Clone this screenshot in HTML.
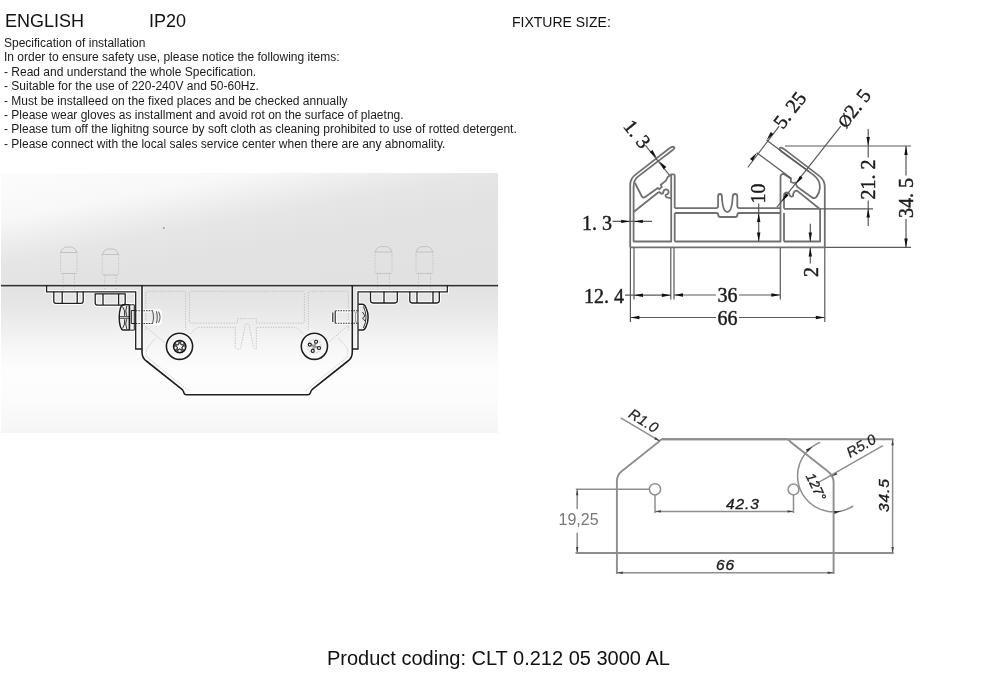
<!DOCTYPE html>
<html>
<head>
<meta charset="utf-8">
<style>
html,body{margin:0;padding:0;background:#fff;}
body{width:1000px;height:700px;position:relative;overflow:hidden;font-family:"Liberation Sans",sans-serif;color:#111;}
.t{position:absolute;white-space:nowrap;}
#eng{left:4.6px;top:11px;font-size:18px;line-height:21px;}
#ip{left:148.5px;top:11px;font-size:18px;line-height:21px;}
#fix{left:511.5px;top:14px;font-size:14px;line-height:16px;}
#spec{left:4px;top:35.7px;font-size:12px;line-height:14.4px;color:#1a1a1a;}
#prod{left:327px;top:646.8px;font-size:20px;line-height:23px;}
#panel{position:absolute;left:1px;top:173px;width:497px;height:113px;
background: linear-gradient(169.5deg, #fcfcfc 0px, #f8f8f8 46px, #eeeeee 68px, #e6e6e6 88px, #e2e2e2 120px, #e1e1e1 202px);
}
#panel2{position:absolute;left:1px;top:286px;width:497px;height:147px;
background: linear-gradient(to bottom, #e2e2e2 0px, #e6e6e6 18px, #eeeeee 40px, #f7f7f7 62px, #fdfdfd 85px, #fcfcfc 110px, #f7f7f7 140px, #f5f5f5 147px);
}
svg{position:absolute;left:0;top:0;will-change:transform;}
.t{will-change:transform;}
</style>
</head>
<body>
<div class="t" id="eng">ENGLISH</div>
<div class="t" id="ip">IP20</div>
<div class="t" id="fix">FIXTURE SIZE:</div>
<div class="t" id="spec">Specification of installation<br>In order to ensure safety use, please notice the following items:<br>- Read and understand the whole Specification.<br>- Suitable for the use of 220-240V and 50-60Hz.<br>- Must be installeed on the fixed places and be checked annually<br>- Please wear gloves as installment and avoid rot on the surface of plaetng.<br>- Please tum off the lighitng source by soft cloth as cleaning prohibited to use of rotted detergent.<br>- Please connect with the local sales service center when there are any abnomality.</div>
<div id="panel"></div><div id="panel2"></div>

<svg id="left" width="1000" height="700" viewBox="0 0 1000 700">
<g fill="none" stroke="#c4c4c4" stroke-width="1" stroke-dasharray="1.4 1.2">
 
 <!-- dotted bolts above ceiling -->
 <path d="M60.6,252.5 Q61.6,248.5 65.52,247 H72.08 Q76,248.5 77,252.5 Z M61.1,273.5 H76.5" stroke="#c2c2c2" stroke-dasharray="none" stroke-width="1"/><path d="M60.6,252.5 V273.5 M77,252.5 V273.5"/><path d="M63.1,273.5 V291 M74.5,273.5 V291"/>
 <path d="M102.2,254.5 Q103.2,250.5 107.12,249 H113.67999999999999 Q117.6,250.5 118.6,254.5 Z M102.7,275 H118.1" stroke="#c2c2c2" stroke-dasharray="none" stroke-width="1"/><path d="M102.2,254.5 V275 M118.6,254.5 V275"/><path d="M104.7,275 V292 M116.1,275 V292"/>
 <path d="M375,252 Q376,248.1 380.1,246.6 H386.9 Q391,248.1 392,252 Z M375.5,273.4 H391.5" stroke="#c2c2c2" stroke-dasharray="none" stroke-width="1"/><path d="M375,252 V273.4 M392,252 V273.4"/><path d="M377.5,273.4 V292 M389.5,273.4 V292"/>
 <path d="M416,252 Q417,248.1 421.1,246.6 H427.9 Q432,248.1 433,252 Z M416.5,273.4 H432.5" stroke="#c2c2c2" stroke-dasharray="none" stroke-width="1"/><path d="M416,252 V273.4 M433,252 V273.4"/><path d="M418.5,273.4 V292 M430.5,273.4 V292"/>
 <!-- interior dotted -->
 <circle cx="163.8" cy="228" r="0.9" fill="#999" stroke="none"/>
 <path d="M145.8,330 V293 Q145.8,291.3 147.5,291.3 H184 Q185.6,291.3 185.6,293 V330"/>
 <path d="M189.5,293 Q189.5,291.3 191,291.3 H303 Q304.4,291.3 304.4,293 V321.5 Q304.4,323.1 303,323.1 H256.3 V318.6 H237.4 V323.1 H191 Q189.5,323.1 189.5,321.5 Z"/>
 <path d="M308.3,330 V293 Q308.3,291.3 310,291.3 H346.5 Q348.3,291.3 348.3,293 V330"/>
 <path d="M190.5,334 L195.5,329 Q197.5,327.3 199.5,327.3 H235.3 V347 Q235.3,349 237.4,349 H239 Q240.5,349 240.8,347 L245.5,324.5 Q247.2,322.5 249,324.5 L253.5,347 Q253.8,349 255.5,349 H256.3 V327.3 H294.5 Q296.2,327.3 298,329 L303.2,334"/>
 <path d="M143.4,324.6 L166.3,344 M348.7,324.6 L328.1,342.9"/>
 <path d="M155.4,338.3 L147.5,347.5 Q146.3,349.7 146.5,352 V354.5 Q146.8,357 149,358.7 L186.5,389 Q188,390.5 189.5,391"/><path d="M338.9,338.3 L346.8,347.5 Q348,349.7 347.8,352 V354.5 Q347.5,357 345.3,358.7 L307.8,389 Q306.3,390.5 304.8,391"/>
 
</g>
<g fill="none" stroke="#fff" stroke-width="3.4" opacity="0.9">
 <!-- ceiling -->
 <path d="M0,285.5 H498"/>
 <!-- left bracket -->
 <path d="M46.6,285.5 V291.8 H135.7 V349 H141.8"/>
 <!-- body -->
 <path d="M142,285.5 V352 Q142,358.5 147,361.5 L182.3,389.7 Q183.6,391 184,393 Q184.6,394.8 186.4,394.8 H307.9 Q309.7,394.8 310.3,393 Q310.7,391 312,389.7 L347.3,361.5 Q352.3,358.5 352.3,352 V285.5"/>
 <!-- right bracket -->
 <path d="M352.3,349 H358 V291.8 H447.3 V285.5"/>
 <!-- nuts -->
 <path d="M53.8,291.8 V301 Q53.8,303.4 56,303.4 H81 Q83.2,303.4 83.2,301 V291.8 M62.2,291.8 V303 M77.2,291.8 V303"/>
 <path d="M95.2,293.8 V302.8 Q95.2,305.2 97.5,305.2 H123 Q125.2,305.2 125.2,302.8 V293.8 Z M103,293.8 V305 M118.6,293.8 V305"/>
 <path d="M370.5,291.8 V300.6 Q370.5,303 373,303 H395 Q397.3,303 397.3,300.6 V291.8 M384,291.8 V303"/>
 <path d="M409.8,291.8 V300.6 Q409.8,303 412,303 H437 Q439.3,303 439.3,300.6 V291.8 M417,291.8 V303 M433,291.8 V303"/>
 <!-- left pan screw -->
 <path d="M134.3,304.8 H123 Q121.3,305.2 120.4,308.2 Q119.2,312.2 119.2,317.4 Q119.2,322.6 120.4,326.6 Q121.3,329.7 123,330.1 H134.3"/>
 <!-- right pan screw -->
 <path d="M358.3,304.3 H363 Q365.2,305 366.3,308.5 Q368.1,312.6 368.1,317.2 Q368.1,321.8 366.3,326 Q365.2,329.5 363,330.1 H358.3"/>
 <path d="M335.2,311 V323.3 M332.8,312.5 V322 M335.2,310.8 H351.8 M335.2,323.3 H351.8"/>
 <path d="M135.7,310.8 H160.5 M135.7,323.5 H160.5 M160.4,311 V323.4"/>
 <!-- front screws -->
 <circle cx="179.5" cy="346.3" r="13.1"/>
 <circle cx="314.4" cy="346.3" r="13.1"/>
</g>
<g fill="none" stroke="#1e1e1e" stroke-width="1.3">
 <!-- ceiling -->
 <path d="M1,285.6 H498" stroke="#333" stroke-width="1.7"/>
 <!-- left bracket -->
 <path d="M46.6,285.5 V291.8 H135.7 V349 H141.8"/>
 <!-- body -->
 <path d="M142,285.5 V352 Q142,358.5 147,361.5 L182.3,389.7 Q183.6,391 184,393 Q184.6,394.8 186.4,394.8 H307.9 Q309.7,394.8 310.3,393 Q310.7,391 312,389.7 L347.3,361.5 Q352.3,358.5 352.3,352 V285.5" stroke-width="1.6"/>
 <!-- right bracket -->
 <path d="M352.3,349 H358 V291.8 H447.3 V285.5"/>
 <!-- nuts -->
 <path d="M53.8,291.8 V301 Q53.8,303.4 56,303.4 H81 Q83.2,303.4 83.2,301 V291.8 M62.2,291.8 V303 M77.2,291.8 V303"/>
 <path d="M95.2,293.8 V302.8 Q95.2,305.2 97.5,305.2 H123 Q125.2,305.2 125.2,302.8 V293.8 Z M103,293.8 V305 M118.6,293.8 V305"/>
 <path d="M370.5,291.8 V300.6 Q370.5,303 373,303 H395 Q397.3,303 397.3,300.6 V291.8 M384,291.8 V303"/>
 <path d="M409.8,291.8 V300.6 Q409.8,303 412,303 H437 Q439.3,303 439.3,300.6 V291.8 M417,291.8 V303 M433,291.8 V303"/>
 <!-- left pan screw -->
 <path d="M129.4,304.8 H123 Q121.3,305.2 120.4,308.2 Q119.2,312.2 119.2,317.4 Q119.2,322.6 120.4,326.6 Q121.3,329.7 123,330.1 H129.4" stroke-width="1.5"/>
 <path d="M129.4,304.8 V330.1" stroke-width="1.6"/>
 <path d="M129.4,304.8 H134.3 V330.1 H129.4" stroke-width="1"/>
 <path d="M131.3,310.5 V323.5 H135.7 M131.3,310.5 H135.7" stroke-width="1"/>
 <path d="M119.8,316.6 H129.4 M119.8,318.3 H129.4" stroke-width="0.8"/>
 <path d="M122.5,306.5 Q125.5,310.5 124.6,315.8 M122.5,328.5 Q125.5,324.3 124.6,319.2 M126.8,306 Q124.8,311 126.6,315.8 M126.8,329 Q124.8,324 126.6,319.2" stroke-width="0.9"/>
 <!-- right pan screw -->
 <path d="M358.3,304.3 H363 Q365.2,305 366.3,308.5 Q368.1,312.6 368.1,317.2 Q368.1,321.8 366.3,326 Q365.2,329.5 363,330.1 H358.3" stroke-width="1.5"/>
 <path d="M363.4,306.5 Q366,311.5 366,317.2 Q366,322.9 363.4,328" stroke-width="0.9"/>
 <path d="M362.5,312 L365,316 L362.5,318 L365,321" stroke-width="0.9"/>
 <path d="M335.2,311 V323.3 M332.8,312.5 V322" stroke-width="1.1"/>
 <path d="M355.6,312.5 H358.3 V322 H355.6 Z" stroke="#999" stroke-width="0.9"/>
 <!-- front screws -->
 <circle cx="179.5" cy="346.3" r="13.1" stroke-width="1.6"/>
 <circle cx="314.4" cy="346.3" r="13.1" stroke-width="1.6"/>
</g>
<g fill="none" stroke="#333" stroke-width="1.1" stroke-dasharray="1.6 1">
 <path d="M135.7,310.8 H153 M135.7,323.5 H153"/>
 <path d="M335.2,310.8 H358.3 M335.2,323.3 H358.3"/>
</g>
<g fill="none" stroke="#666" stroke-width="1.1">
 <path d="M152.5,311 Q154.6,317.2 152.5,323.4 M156.3,311.2 Q158.4,317.2 156.3,323.2 M158.5,311.6 Q161.6,317.2 158.5,322.8"/>
</g>
<g fill="none" stroke="#333" stroke-width="1">
 <!-- torx left -->
 <circle cx="179.7" cy="346.6" r="6.2" fill="#6a6a6a" stroke="#111" stroke-width="1.4"/>
 <g fill="#f4f4f4" stroke="none"><circle cx="182.23" cy="343.12" r="1.1"/><circle cx="183.79" cy="347.93" r="1.1"/><circle cx="179.70" cy="350.90" r="1.1"/><circle cx="175.61" cy="347.93" r="1.1"/><circle cx="177.17" cy="343.12" r="1.1"/></g>
 <path d="M179.70,342.20 L180.99,344.82 L183.88,345.24 L181.79,347.28 L182.29,350.16 L179.70,348.80 L177.11,350.16 L177.61,347.28 L175.52,345.24 L178.41,344.82 Z" fill="#fafafa" stroke="#222" stroke-width="0.9"/>
 <!-- cross right -->
 <circle cx="314.4" cy="346.3" r="6.8" stroke="#d4d4d4" stroke-width="1.4" stroke-dasharray="1.5 1"/>
 <path d="M314.40,346.30 L315.56,343.11 M314.40,346.30 L317.59,347.46 M314.40,346.30 L313.24,349.49 M314.40,346.30 L311.21,345.14 " stroke="#9a9a9a" stroke-width="2.4"/>
 <g stroke="#1a1a1a" stroke-width="1.1" fill="#fff"><circle cx="316.08" cy="341.70" r="1.5"/><circle cx="319.00" cy="347.98" r="1.5"/><circle cx="312.72" cy="350.90" r="1.5"/><circle cx="309.80" cy="344.62" r="1.5"/></g>
</g>
</g>
</svg>
<svg id="rtop" width="1000" height="700" viewBox="0 0 1000 700">
<g fill="none" stroke="#707070" stroke-width="1.8" stroke-linejoin="round">
<path d="M630.2,247.4 V185 Q630.2,178.5 635.5,174.6 L669.5,148.3 Q672.8,145.8 674.3,147.3 Q675,148.6 672.4,150.2 L637.6,176.9 Q633.6,180.3 633.6,186.5 V241.5 H671.2 V174.6"/>
<path d="M635,183 L641.6,196 Q643,198.6 645.5,196.8 L657.8,188 L659.3,189.2 L661.8,186.8 L660.8,184.8 L666,180.6 L667.6,177.2 L671.2,174.4 L674.7,174.4"/>
<path d="M633.6,212 L657.8,192.8 Q659.5,191.6 660.4,193 Q661.8,194.4 663.2,193 Q663.2,189.6 665.8,189.4 Q669,189.6 668.6,192.6 Q667.6,194.6 665.6,195 Q665.2,197.4 668,197.6 L671.2,198.2"/>
<path d="M674.7,174.4 V208.1 M674.7,213 V241.5"/>
<path d="M674.7,208.1 H716 Q718.1,208.1 718.1,206 V196.5 Q718.1,194 720,194 Q721.9,194 721.9,196.5 C722.2,203.5 723,211.8 727.3,211.8 C731.6,211.8 732.4,203.5 732.7,196.5 Q732.9,194 735,194 Q737.3,194 737.3,196.5 V206 Q737.3,208.1 739.5,208.1 H780.5"/>
<path d="M674.7,213 H716.3 Q718.3,213 718.3,215 Q718.3,217 720.3,217 H735.3 Q737.3,217 737.3,215 Q737.3,213 739.3,213 H780.5"/>
<path d="M674.7,241.5 H780.5 V208.1"/>
<path d="M780.5,208.1 V177.5 Q780.5,173.8 783.5,173.8 L791,178.8 L790.8,182 L793.5,183 L795.2,182.5 L796.4,185.2 L797.5,187 L811.8,197.2 Q814.5,199.4 816.6,196.6 Q819.8,192.2 819.8,188 V186 Q819.8,180.2 814,175.4 L781.2,151.2 Q780,150.4 779.6,149.2 Q779.3,147.4 781.4,147.6 Q783,148.2 785.8,150.4 L819.8,176.4 Q824.8,180.5 824.8,187 V247.4 H630.2"/>
<path d="M784,241.5 V213 M784,208.8 V196 Q784,193 786.5,192.5 Q789.5,192.5 789.8,195.5 Q791,197.5 793,196 Q793,192.5 795.5,190.8 L797,190.6 L819.5,208.8"/>
<path d="M784,241.5 H820.1 V208.8 H784"/>
</g>
<g fill="none" stroke="#5a5a5a" stroke-width="1.2">
<path d="M630.4,247.4 V322 M634,247.4 V299.4 M670.8,247.4 V299.4 M674,247.4 V299.4 M780.3,247.4 V299.4 M824.8,247.4 V322"/>
<path d="M625,295.2 H670.8"/>
<path d="M674,295 H716 M739,295 H780.3"/>
<path d="M630.4,317.5 H716 M739,317.5 H824.8"/>
<path d="M612.5,221.4 H652"/>
<path d="M785,146 H911 M820.1,208.8 H873 M825,247.4 H911"/>
<path d="M868.2,129 V157.5 M868.2,200.5 V226"/>
<path d="M906,146 V175.5 M906,219 V247.4"/>
<path d="M758.7,203.6 V241.5"/>
<path d="M810.3,223.7 V241.5 M810.3,247.4 V263.5"/>
<path d="M747.7,167.5 L779.2,126.2 M766.6,140.2 L809,171.5 M756.8,152.8 L791.5,178.5"/>
<path d="M840.8,126.2 L777,207.2"/>
<path d="M645.4,145.4 L669.4,175.1"/>
</g>
<path d="M634.0,295.2 L643.0,293.5 L643.0,296.9 Z" fill="#111" stroke="none"/>
<path d="M670.8,295.2 L661.8,296.9 L661.8,293.5 Z" fill="#111" stroke="none"/>
<path d="M674.0,295.0 L683.0,293.3 L683.0,296.7 Z" fill="#111" stroke="none"/>
<path d="M780.3,295.0 L771.3,296.7 L771.3,293.3 Z" fill="#111" stroke="none"/>
<path d="M630.4,317.5 L639.4,315.8 L639.4,319.2 Z" fill="#111" stroke="none"/>
<path d="M824.8,317.5 L815.8,319.2 L815.8,315.8 Z" fill="#111" stroke="none"/>
<path d="M630.2,221.4 L621.2,223.1 L621.2,219.7 Z" fill="#111" stroke="none"/>
<path d="M633.8,221.4 L642.8,219.7 L642.8,223.1 Z" fill="#111" stroke="none"/>
<path d="M868.2,146.0 L866.5,137.0 L869.9,137.0 Z" fill="#111" stroke="none"/>
<path d="M868.2,208.6 L869.9,217.6 L866.5,217.6 Z" fill="#111" stroke="none"/>
<path d="M906.0,146.0 L907.7,155.0 L904.3,155.0 Z" fill="#111" stroke="none"/>
<path d="M906.0,247.4 L904.3,238.4 L907.7,238.4 Z" fill="#111" stroke="none"/>
<path d="M758.7,213.0 L760.4,222.0 L757.0,222.0 Z" fill="#111" stroke="none"/>
<path d="M758.7,241.5 L757.0,232.5 L760.4,232.5 Z" fill="#111" stroke="none"/>
<path d="M810.3,241.5 L808.6,232.5 L812.0,232.5 Z" fill="#111" stroke="none"/>
<path d="M810.3,247.4 L812.0,256.4 L808.6,256.4 Z" fill="#111" stroke="none"/>
<path d="M766.6,140.2 L770.7,132.0 L773.4,134.1 Z" fill="#111" stroke="none"/>
<path d="M756.8,152.8 L752.7,161.0 L750.0,158.9 Z" fill="#111" stroke="none"/>
<path d="M795.8,184.0 L800.0,175.8 L802.6,177.9 Z" fill="#111" stroke="none"/>
<path d="M781.7,201.5 L785.9,193.3 L788.5,195.4 Z" fill="#111" stroke="none"/>
<path d="M656.8,158.0 L649.8,152.1 L652.5,149.9 Z" fill="#111" stroke="none"/>
<path d="M659.3,161.2 L666.3,167.1 L663.6,169.3 Z" fill="#111" stroke="none"/>
<text x="582" y="229.5" font-family="Liberation Serif" font-size="20" fill="#1c1c1c" stroke="#1c1c1c" stroke-width="0.45">1. 3</text>
<text x="584" y="303" font-family="Liberation Serif" font-size="20" fill="#1c1c1c" stroke="#1c1c1c" stroke-width="0.45">12. 4</text>
<text x="717.5" y="302" font-family="Liberation Serif" font-size="20" fill="#1c1c1c" stroke="#1c1c1c" stroke-width="0.45">36</text>
<text x="717.5" y="324.5" font-family="Liberation Serif" font-size="20" fill="#1c1c1c" stroke="#1c1c1c" stroke-width="0.45">66</text>
<text transform="translate(765,203.5) rotate(-90)" font-family="Liberation Serif" font-size="20" fill="#1c1c1c" stroke="#1c1c1c" stroke-width="0.45">10</text>
<text transform="translate(875,199.5) rotate(-90)" font-family="Liberation Serif" font-size="20" fill="#1c1c1c" stroke="#1c1c1c" stroke-width="0.45">21. 2</text>
<text transform="translate(913,218) rotate(-90)" font-family="Liberation Serif" font-size="20" fill="#1c1c1c" stroke="#1c1c1c" stroke-width="0.45">34. 5</text>
<text transform="translate(818,277) rotate(-90)" font-family="Liberation Serif" font-size="20" fill="#1c1c1c" stroke="#1c1c1c" stroke-width="0.45">2</text>
<text transform="translate(783,130) rotate(-52.7)" font-family="Liberation Serif" font-size="20" fill="#1c1c1c" stroke="#1c1c1c" stroke-width="0.45">5. 25</text>
<text transform="translate(846,129) rotate(-52)" font-family="Liberation Serif" font-size="20" fill="#1c1c1c" stroke="#1c1c1c" stroke-width="0.45"><tspan font-size="17">&#216;</tspan>2. 5</text>
<text transform="translate(622.5,126.5) rotate(51)" font-family="Liberation Serif" font-size="20" fill="#1c1c1c" stroke="#1c1c1c" stroke-width="0.45">1. 3</text>
</svg>
<svg id="rbot" width="1000" height="700" viewBox="0 0 1000 700">
<g fill="none" stroke="#8e8e8e" stroke-width="1.9">
<path d="M616.9,574 V481 Q616.9,475 621.4,471.4 L659.5,441.2 Q660.5,439.2 662,439.2 H787.5 Q789.6,439.6 790.7,442.1 L827.1,470.7 Q833.6,475.5 833.6,482 V574"/>
<path d="M575.5,553 H893.7 M662,439.2 H893.7"/>
</g>
<g fill="none" stroke="#8e8e8e" stroke-width="1.5">
<circle cx="655" cy="489.3" r="5.6"/><circle cx="793.5" cy="489.5" r="5.4"/>
<path d="M575.8,489.3 H649.4 M655,494.9 V513 M793.5,494.9 V513"/>
<path d="M655,511.4 H793.5"/>
<path d="M577.2,489.3 V509 M577.2,532.7 V553"/>
<path d="M616.9,572.7 H833.6"/>
<path d="M892.6,439.3 V553"/>
<path d="M620.7,417.9 L660,441.2"/>
<path d="M882.9,445.7 L816.4,483.6"/>
<path d="M820.1,442.4 L818.3,443.2 L816.5,444.1 L814.8,445.1 L813.1,446.2 L811.5,447.4 L809.9,448.7 L808.5,450.0 L807.1,451.5 L805.8,453.0 L804.5,454.6 L803.4,456.2 L802.4,457.9 L801.4,459.7 L800.6,461.5 L799.8,463.3 L799.2,465.2 L798.7,467.2 L798.2,469.1 L797.9,471.1 L797.7,473.1 L797.6,475.1 L797.6,477.1 L797.7,479.1 L798.0,481.1 L798.3,483.0 L798.8,485.0 L799.4,486.9 L800.0,488.8 L800.8,490.6 L801.7,492.4 L802.6,494.2 L803.7,495.9 L804.9,497.5 L806.1,499.1 L807.5,500.5 L808.9,502.0 L810.4,503.3 L811.9,504.5 L813.5,505.7 L815.2,506.8 L817.0,507.7 L818.8,508.6 L820.6,509.4 L822.5,510.1 L824.4,510.6 L826.4,511.1 L828.4,511.4 L830.3,511.7 L832.3,511.8 L834.3,511.8 L836.3,511.7 L838.3,511.5 L840.3,511.2 L842.2,510.7 L844.2,510.2 L846.1,509.6 L847.9,508.8 L849.7,508.0 L851.5,507.0 L853.2,506.0"/>
</g>
<path d="M660.0,441.2 L654.2,439.2 L655.5,437.1 Z" fill="#444" stroke="none"/>
<path d="M831.5,476.5 L836.1,472.5 L837.3,474.6 Z" fill="#444" stroke="none"/>
<path d="M655.0,511.4 L661.0,510.2 L661.0,512.6 Z" fill="#444" stroke="none"/>
<path d="M793.5,511.4 L787.5,512.6 L787.5,510.2 Z" fill="#444" stroke="none"/>
<path d="M577.2,489.3 L578.4,495.3 L576.0,495.3 Z" fill="#444" stroke="none"/>
<path d="M577.2,553.0 L576.0,547.0 L578.4,547.0 Z" fill="#444" stroke="none"/>
<path d="M616.9,572.7 L622.9,571.5 L622.9,573.9 Z" fill="#444" stroke="none"/>
<path d="M833.6,572.7 L827.6,573.9 L827.6,571.5 Z" fill="#444" stroke="none"/>
<path d="M892.6,439.3 L893.8,445.3 L891.4,445.3 Z" fill="#444" stroke="none"/>
<path d="M892.6,553.0 L891.4,547.0 L893.8,547.0 Z" fill="#444" stroke="none"/>
<path d="M812.4,446.7 L807.7,452.1 L805.8,449.5 Z" fill="#333" stroke="none"/>
<path d="M841.1,511.0 L834.6,514.0 L833.9,510.9 Z" fill="#333" stroke="none"/>
<text transform="translate(627.5,416.5) rotate(32)" font-family="Liberation Sans" font-size="14.5" fill="#222" stroke="#222" stroke-width="0.25" font-style="italic" letter-spacing="0.3">R1.0</text>
<text x="726" y="508.5" font-family="Liberation Sans" font-size="15.5" fill="#1a1a1a" stroke="#1a1a1a" stroke-width="0.35" font-style="italic" letter-spacing="0.9">42.3</text>
<text x="716" y="569.5" font-family="Liberation Sans" font-size="15.5" fill="#1a1a1a" stroke="#1a1a1a" stroke-width="0.35" font-style="italic" letter-spacing="0.9">66</text>
<text x="558.5" y="525.2" font-family="Liberation Sans" font-size="16" fill="#777">19,25</text>
<text transform="translate(889,512) rotate(-90)" font-family="Liberation Sans" font-size="15.5" fill="#1a1a1a" stroke="#1a1a1a" stroke-width="0.35" font-style="italic" letter-spacing="0.9">34.5</text>
<text transform="translate(850,458) rotate(-30)" font-family="Liberation Sans" font-size="14.5" fill="#222" stroke="#222" stroke-width="0.25" font-style="italic" letter-spacing="0.3">R5.0</text>
<text transform="translate(805.5,476) rotate(64)" font-family="Liberation Sans" font-size="13.5" fill="#1a1a1a" stroke="#1a1a1a" stroke-width="0.3" font-style="italic" letter-spacing="0.2">127°</text>
</svg>
<div class="t" id="prod">Product coding: CLT 0.212 05 3000 AL</div>
</body>
</html>
